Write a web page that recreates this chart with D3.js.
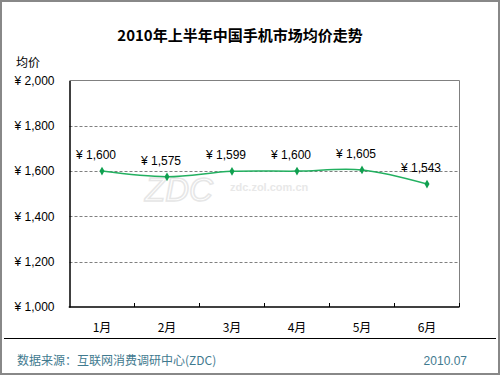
<!DOCTYPE html>
<html><head><meta charset="utf-8">
<script src="https://cdn.jsdelivr.net/npm/d3@7"></script>
<style>body{margin:0;background:#fff}svg{display:block}</style>
</head><body>
<script>
const months = ["1月","2月","3月","4月","5月","6月"];
const prices = [1600,1575,1599,1600,1605,1543];
const yTicks = [1000,1200,1400,1600,1800,2000];
const title = "2010年上半年中国手机市场均价走势";
const yTitle = "均价";
const source = "数据来源：互联网消费调研中心(ZDC)";
const dateText = "2010.07";

const W=500,H=375;
const svg=d3.select("body").append("svg").attr("width",W).attr("height",H);
const fontNum="'Liberation Sans', Arial, sans-serif";
const fontCJK="'Noto Sans CJK SC', 'Liberation Sans', sans-serif";

// outer border
svg.append("rect").attr("x",1).attr("y",1).attr("width",W-2).attr("height",H-2)
  .attr("fill","#fff").attr("stroke","#888").attr("stroke-width",2);

const L=69.5,R=459.5,T=80.5,B=307;
const x=d3.scaleBand().domain(months).range([L,R]);
const y=d3.scaleLinear().domain([1000,2000]).range([B,T]);

// title
svg.append("text").attr("x",240).attr("y",41).attr("text-anchor","middle")
  .attr("font-family",fontCJK).attr("font-weight","bold").attr("font-size",15)
  .attr("fill","#000").text(title);

// y title
svg.append("text").attr("x",16).attr("y",67).attr("font-family",fontCJK)
  .attr("font-size",12).attr("fill","#000").text(yTitle);

// watermark
svg.append("text").attr("x",145).attr("y",201).attr("font-family",fontNum)
  .attr("font-size",33).attr("font-style","italic").attr("fill","none").attr("stroke","#e6e6e6")
  .attr("stroke-width",1.5).text("ZDC");
svg.append("text").attr("x",230).attr("y",191).attr("font-family",fontNum)
  .attr("font-size",11).attr("font-weight","bold").attr("fill","#e8e8e8").text("zdc.zol.com.cn");

// gridlines
svg.append("g").selectAll("line").data(yTicks.filter(d=>d>1000&&d<2000)).join("line")
  .attr("x1",L).attr("x2",R).attr("y1",d=>Math.round(y(d))+0.5).attr("y2",d=>Math.round(y(d))+0.5)
  .attr("stroke","#808080").attr("stroke-dasharray","3,2").attr("stroke-width",1);

// top and right frame
svg.append("path").attr("d",`M${L},${T}H${R}V${B}`).attr("fill","none").attr("stroke","#808080").attr("stroke-width",1);

// y axis
const yAxis=d3.axisLeft(y).tickValues(yTicks).tickSize(0).tickPadding(15)
  .tickFormat(d=>"¥ "+d3.format(",")(d));
const gy=svg.append("g").attr("transform",`translate(${L},0)`).call(yAxis);
gy.select(".domain").attr("stroke","#000").attr("stroke-width",1.5);
gy.selectAll("text").attr("font-family",fontNum).attr("font-size",12).attr("fill","#000");

// x axis
const gx=svg.append("g").attr("transform",`translate(0,${B})`);
gx.append("line").attr("x1",L-0.75).attr("x2",R).attr("y1",0).attr("y2",0).attr("stroke","#000").attr("stroke-width",1.5);
gx.selectAll("line.tk").data(months).join("line").attr("class","tk")
  .attr("x1",d=>x(d)+x.bandwidth()).attr("x2",d=>x(d)+x.bandwidth()).attr("y1",0).attr("y2",-4)
  .attr("stroke","#000").attr("stroke-width",1);
gx.selectAll("text").data(months).join("text")
  .attr("x",d=>x(d)+x.bandwidth()/2).attr("y",25).attr("text-anchor","middle")
  .attr("font-family",fontCJK).attr("font-size",12).attr("fill","#000").text(d=>d);

// line
const cx=d=>x(d)+x.bandwidth()/2;
const line=d3.line().x((d,i)=>cx(months[i])).y(d=>y(d)).curve(d3.curveCatmullRom.alpha(0.5));
svg.append("path").datum(prices).attr("d",line).attr("fill","none").attr("stroke","#22b060").attr("stroke-width",1.5);
svg.selectAll("path.mk").data(prices).join("path").attr("class","mk")
  .attr("d",d3.symbol().type(d3.symbolDiamond).size(22))
  .attr("transform",(d,i)=>`translate(${cx(months[i])},${y(d)})`).attr("fill","#10a050");

// labels
svg.selectAll("text.lbl").data(prices).join("text").attr("class","lbl")
  .attr("x",(d,i)=>cx(months[i])-6).attr("y",d=>y(d)-12).attr("text-anchor","middle")
  .attr("font-family",fontNum).attr("font-size",12).attr("fill","#000")
  .text(d=>"¥ "+d3.format(",")(d));

// separator
svg.append("line").attr("x1",4).attr("x2",496).attr("y1",338.5).attr("y2",338.5).attr("stroke","#000").attr("stroke-width",1);

// footer
svg.append("text").attr("x",17).attr("y",365).attr("font-family",fontCJK).attr("font-size",12)
  .attr("fill","#3f7a8f").text(source);
svg.append("text").attr("x",467).attr("y",365).attr("text-anchor","end").attr("font-family",fontNum)
  .attr("font-size",12).attr("fill","#3f7a8f").text(dateText);
</script>
</body></html>
